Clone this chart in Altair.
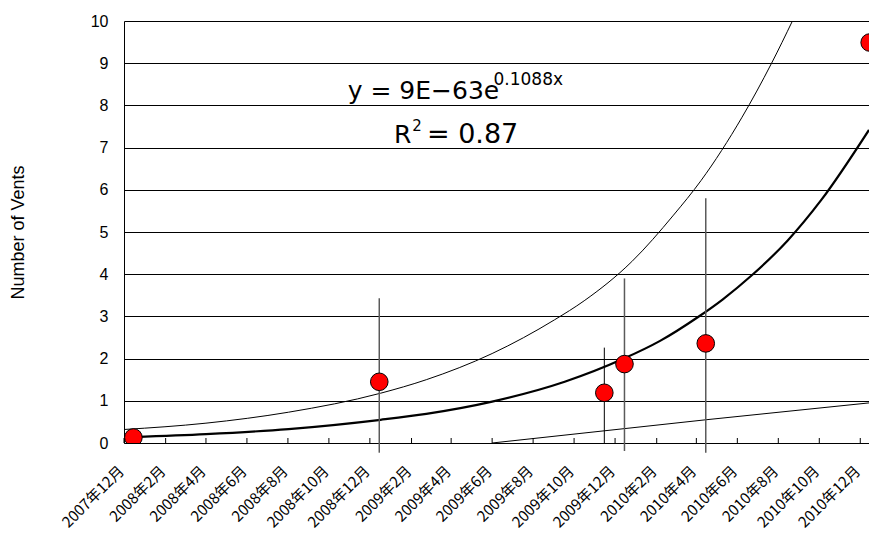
import altair as alt
import pandas as pd

obs_dates = ["2007-12-15", "2008-12-15", "2009-11-15", "2009-12-15", "2010-04-15", "2010-12-15"]
obs_values = [0.13, 1.45, 1.19, 1.87, 2.36, 9.49]

# error bars
err_dates = ["2008-12-15", "2009-11-15", "2009-12-15", "2010-04-15"]
err_low = [-0.23, 0.0, -0.19, -0.23]
err_high = [3.43, 2.26, 3.90, 5.80]
err_kind = ["grey", "black", "grey", "grey"]

# exponential trend line (thick)
fit_dates = ["2007-12-15", "2008-04-01", "2008-08-02", "2008-12-17", "2009-02-23", "2009-06-01",
             "2009-09-17", "2009-12-14", "2010-02-06", "2010-04-03", "2010-05-10", "2010-06-23",
             "2010-08-15", "2010-10-04", "2010-12-14"]
fit_values = [0.14, 0.21, 0.33, 0.55, 0.69, 0.98, 1.45, 2.00, 2.42, 2.98, 3.40, 3.98,
              4.80, 5.76, 7.42]

# upper bound (thin)
up_dates = ["2007-12-01", "2008-04-01", "2008-08-02", "2008-12-17", "2009-02-23", "2009-06-01",
            "2009-09-02", "2009-10-16", "2009-12-26", "2010-02-26", "2010-04-08", "2010-06-08",
            "2010-07-22", "2010-08-22"]
up_values = [0.32, 0.47, 0.73, 1.18, 1.50, 2.12, 2.92, 3.37, 4.30, 5.40, 6.22, 7.72,
             9.00, 10.0]

# lower bound (thin)
low_dates = ["2009-06-01", "2010-04-15", "2010-12-14"]
low_values = [0.0, 0.55, 0.95]

# axis ticks
tick_months = [(2007, 12), (2008, 2), (2008, 4), (2008, 6), (2008, 8), (2008, 10), (2008, 12),
               (2009, 2), (2009, 4), (2009, 6), (2009, 8), (2009, 10), (2009, 12),
               (2010, 2), (2010, 4), (2010, 6), (2010, 8), (2010, 10), (2010, 12)]
tick_labels = ["2007年12月", "2008年2月", "2008年4月", "2008年6月", "2008年8月", "2008年10月",
               "2008年12月", "2009年2月", "2009年4月", "2009年6月", "2009年8月", "2009年10月",
               "2009年12月", "2010年2月", "2010年4月", "2010年6月", "2010年8月", "2010年10月",
               "2010年12月"]
y_ticks = list(range(0, 11))

# ---- build tables ----
obs_df = pd.DataFrame({"date": obs_dates, "value": obs_values})
err_df = pd.DataFrame({"date": err_dates, "lo": err_low, "hi": err_high, "kind": err_kind})
fit_df = pd.DataFrame({"date": fit_dates, "value": fit_values})
up_df = pd.DataFrame({"date": up_dates, "value": up_values})
low_df = pd.DataFrame({"date": low_dates, "value": low_values})
tick_df = pd.DataFrame({"date": [f"{y}-{m:02d}-01" for y, m in tick_months]})

label_map = ", ".join(f"'{y}-{m:02d}': '{lab}'" for (y, m), lab in zip(tick_months, tick_labels))
label_expr = "{" + label_map + "}[utcFormat(datum.value, '%Y-%m')]"

W, H = 745, 422
CJK = "Noto Sans CJK JP"
LAT = "Liberation Sans"
ANN = "DejaVu Sans"

x_scale = alt.Scale(type="utc",
                    domain=[alt.DateTime(year=2007, month=12, date=1, utc=True),
                            alt.DateTime(year=2010, month=12, date=14, utc=True)])
y_scale = alt.Scale(domain=[0, 10], nice=False, zero=False)

x_axis = alt.Axis(values=[alt.DateTime(year=y, month=m, date=1, utc=True) for y, m in tick_months],
                  labelExpr=label_expr, labelAngle=315, labelAlign="right", labelBaseline="middle",
                  labelFont=CJK, labelFontSize=15, labelColor="black", labelPadding=25,
                  labelOffset=-3,
                  labelFlush=False, labelOverlap=False, labelBound=False,
                  ticks=False, grid=False, domainColor="black", domainWidth=1, title=None)
y_axis = alt.Axis(values=y_ticks, grid=True, gridColor="black", gridWidth=1, gridOpacity=1,
                  ticks=False, domainColor="black", domainWidth=1,
                  labelFont=LAT, labelFontSize=16, labelColor="black", labelPadding=16,
                  title="Number of Vents", titleFont=LAT, titleFontSize=18,
                  titleFontWeight="normal", titleColor="black", titleAngle=270,
                  titleX=-106, titleY=H / 2, titleAlign="center", titleBaseline="middle")


def X():
    return alt.X("date:T", scale=x_scale, axis=x_axis)


def Y(field="value"):
    return alt.Y(f"{field}:Q", scale=y_scale, axis=y_axis)


ticks = alt.Chart(tick_df).mark_rule(color="black", strokeWidth=1).encode(
    x=X(), y=alt.value(H), y2=alt.value(H - 5))

upper = alt.Chart(up_df).mark_line(color="black", strokeWidth=1, interpolate="monotone", clip=True).encode(
    x=X(), y=Y())
lower = alt.Chart(low_df).mark_line(color="black", strokeWidth=1, clip=True).encode(
    x=X(), y=Y())
fit = alt.Chart(fit_df).mark_line(color="black", strokeWidth=2.2, interpolate="monotone", clip=True).encode(
    x=X(), y=Y())

err = alt.Chart(err_df).mark_rule().encode(
    x=X(), y=Y("lo"), y2="hi:Q",
    color=alt.Color("kind:N", scale=alt.Scale(domain=["grey", "black"], range=["#5a5a5a", "#000000"]),
                    legend=None),
    strokeWidth=alt.StrokeWidth("kind:N", scale=alt.Scale(domain=["grey", "black"], range=[1.5, 1]),
                                legend=None))

points = alt.Chart(obs_df).mark_point(shape="circle", filled=True, fill="#ff0000", stroke="black",
                                      strokeWidth=1, size=310, opacity=1, clip=True).encode(
    x=X(), y=Y())

ann_df = pd.DataFrame({
    "date": ["2008-10-29", "2009-06-03", "2009-01-06", "2009-02-02", "2009-02-24"],
    "value": [8.16, 8.49, 7.12, 7.40, 7.12],
    "text": ["y = 9E−63e", "0.1088x", "R", "2", "= 0.87"],
    "fs": [25, 17, 25, 15, 27],
})
ann = alt.Chart(ann_df).mark_text(align="left", baseline="alphabetic", font=ANN, color="black").encode(
    x=X(), y=Y(), text="text:N", size=alt.Size("fs:Q", scale=None))

chart = alt.layer(ticks, upper, lower, fit, err, points, ann).properties(
    width=W, height=H, autosize="none",
    padding={"left": 116, "top": 13, "right": 0, "bottom": 89},
    background="white",
).configure_view(stroke=None)

chart.save("out.html", embed_options={"renderer": "svg", "actions": False})
